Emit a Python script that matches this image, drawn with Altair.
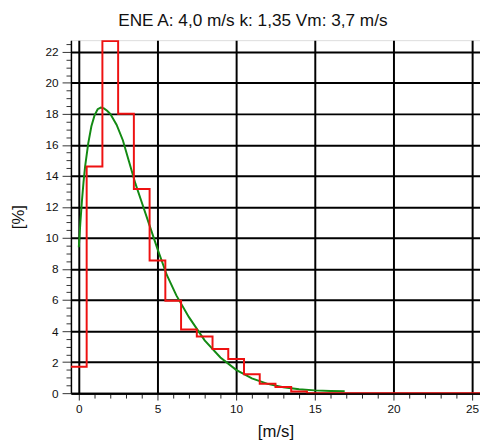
import altair as alt
import pandas as pd

# Histogram (bins of 1 m/s, centred on integer speeds), percent
bin_centers = list(range(26))
bin_pct = [1.7, 14.6, 22.7, 18.0, 13.15, 8.55, 5.95, 4.1, 3.65, 2.85, 2.2, 1.22,
           0.6, 0.4, 0.1, 0, 0, 0, 0, 0, 0, 0, 0, 0, 0, 0]

# Fitted curve
fit_speed = [0, 0.1, 0.2, 0.3, 0.4, 0.6, 0.8, 1.0, 1.2, 1.4, 1.6, 1.8, 2.0, 2.4,
             2.8, 3.2, 3.6, 4.0, 4.5, 5.0, 5.6, 6.2, 7.0, 8.0, 9.0, 10.0, 11.0,
             12.0, 13.0, 14.0, 15.0, 16.0, 16.9]
fit_pct = [9.4, 11.0, 12.4, 13.6, 14.6, 16.1, 17.2, 17.9, 18.3, 18.4, 18.35, 18.2,
           18.0, 17.3, 16.3, 14.9, 13.5, 12.3, 10.8, 9.3, 7.6, 6.3, 4.9, 3.4, 2.3,
           1.5, 0.95, 0.6, 0.38, 0.25, 0.18, 0.14, 0.12]

x_ticks = list(range(26))
y_ticks = [i * 0.5 for i in range(46)]

edges = [c - 0.5 for c in bin_centers] + [bin_centers[-1] + 0.5]
vals = bin_pct + [bin_pct[-1]]
hist_df = pd.DataFrame({"v": edges, "p": vals})
fit_df = pd.DataFrame({"v": fit_speed, "p": fit_pct})

FONT = "Liberation Sans"

x_scale = alt.Scale(domain=[-0.5, 25.5], nice=False, zero=False)
y_scale = alt.Scale(domain=[0, 22.75], nice=False)

x_axis = alt.Axis(
    values=x_ticks,
    labelExpr="datum.value % 5 === 0 ? format(datum.value, 'd') : ''",
    title="[m/s]",
    titleFont=FONT, titleFontSize=17, titleFontWeight="normal", titleColor="#111",
    titlePadding=9,
    labelFont=FONT, labelFontSize=12, labelColor="#111", labelPadding=4,
    labelOverlap=False, labelFlush=False, tickCount=26,
    domainColor="black", domainWidth=2,
    tickColor="#222", tickWidth=1,
    tickSize={"condition": {"test": "datum.value % 5 === 0", "value": 7}, "value": 5},
    grid=True, gridColor="black", gridWidth=2,
    gridOpacity={"condition": {"test": "datum.value % 5 === 0", "value": 1}, "value": 0},
)
y_axis = alt.Axis(
    values=y_ticks,
    labelExpr="datum.value % 2 === 0 ? format(datum.value, 'd') : ''",
    title="[%]",
    titleFont=FONT, titleFontSize=17, titleFontWeight="normal", titleColor="#111",
    titlePadding=18,
    labelFont=FONT, labelFontSize=12, labelColor="#111", labelPadding=4,
    labelOverlap=False, labelFlush=False, tickCount=46,
    domainColor="black", domainWidth=1.5,
    tickColor="#333", tickWidth=1,
    tickSize={"condition": {"test": "datum.value % 2 === 0", "value": 9}, "value": 5},
    grid=True, gridColor="black", gridWidth=2,
    gridOpacity={"condition": {"test": "datum.value % 2 === 0", "value": 1}, "value": 0},
)

fit = alt.Chart(fit_df).mark_line(color="#138a13", strokeWidth=2, clip=True).encode(
    x=alt.X("v:Q", scale=x_scale, axis=x_axis),
    y=alt.Y("p:Q", scale=y_scale, axis=y_axis),
)
hist = alt.Chart(hist_df).mark_line(color="#ee1111", strokeWidth=2,
                                    interpolate="step-after", clip=True).encode(
    x=alt.X("v:Q", scale=x_scale, axis=x_axis),
    y=alt.Y("p:Q", scale=y_scale, axis=y_axis),
)

chart = alt.layer(fit, hist).properties(
    width=416,
    height=359,
    title=alt.TitleParams(
        "ENE A: 4,0 m/s k: 1,35 Vm: 3,7 m/s",
        font=FONT, fontSize=17.5, fontWeight="normal", color="#111",
        anchor="middle", dx=-23, offset=9,
    ),
    autosize=alt.AutoSizeParams(type="none"),
    padding={"left": 64, "top": 29, "right": 0, "bottom": 47},
).configure_view(stroke=None).configure(background="white")

chart.save("out.html", embed_options={"renderer": "svg", "actions": False})
